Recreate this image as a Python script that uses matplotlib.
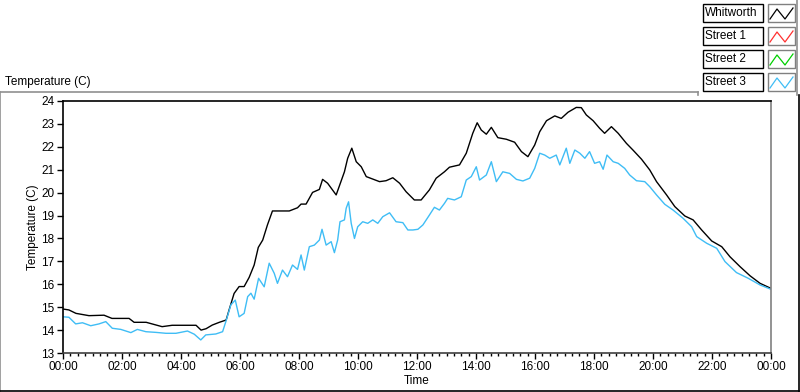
"""LabVIEW-style waveform chart: street temperatures over one day."""

import matplotlib

matplotlib.use("Agg")
import matplotlib.pyplot as plt
from matplotlib.lines import Line2D
from matplotlib.patches import Rectangle
from matplotlib.ticker import FixedLocator, MultipleLocator

plt.rcParams["font.family"] = ["Liberation Sans", "DejaVu Sans"]

# hours since midnight / temperature in C
whitworth_t = [
    0.00, 0.20, 0.44, 0.88, 1.39, 1.66, 2.24, 2.41, 2.82, 3.16, 3.36, 3.70,
    4.51, 4.68, 4.85, 5.06, 5.30, 5.53, 5.63, 5.80, 5.97, 6.14, 6.31, 6.48,
    6.62, 6.77, 6.93, 7.10, 7.44, 7.67, 7.95, 8.07, 8.24, 8.46, 8.69, 8.80,
    8.97, 9.26, 9.54, 9.65, 9.79, 9.94, 10.11, 10.28, 10.73, 10.95, 11.18,
    11.41, 11.63, 11.91, 12.14, 12.42, 12.65, 12.93, 13.10, 13.44, 13.67,
    13.89, 14.04, 14.18, 14.35, 14.52, 14.74, 15.03, 15.31, 15.54, 15.76,
    15.99, 16.16, 16.39, 16.67, 16.89, 17.12, 17.40, 17.57, 17.74, 17.97,
    18.19, 18.36, 18.59, 18.82, 19.10, 19.32, 19.61, 19.89, 20.12, 20.46,
    20.74, 21.08, 21.36, 21.65, 21.99, 22.33, 22.61, 22.95, 23.29, 23.63,
    24.00,
]
whitworth_v = [
    14.92, 14.88, 14.73, 14.63, 14.65, 14.51, 14.51, 14.34, 14.34, 14.22,
    14.15, 14.21, 14.21, 14.00, 14.06, 14.22, 14.34, 14.44, 14.88, 15.60,
    15.90, 15.90, 16.30, 16.84, 17.61, 17.93, 18.59, 19.20, 19.20, 19.20,
    19.34, 19.50, 19.50, 20.01, 20.14, 20.58, 20.41, 19.90, 20.91, 21.50,
    21.94, 21.35, 21.13, 20.70, 20.48, 20.52, 20.65, 20.41, 20.04, 19.68,
    19.68, 20.12, 20.63, 20.91, 21.11, 21.21, 21.72, 22.59, 23.05, 22.73,
    22.55, 22.85, 22.40, 22.33, 22.20, 21.79, 21.57, 22.08, 22.66, 23.14,
    23.35, 23.24, 23.51, 23.72, 23.71, 23.39, 23.14, 22.81, 22.59, 22.88,
    22.59, 22.15, 21.86, 21.46, 20.99, 20.48, 19.90, 19.39, 18.98, 18.81,
    18.37, 17.89, 17.64, 17.20, 16.77, 16.37, 16.04, 15.82,
]

street3_t = [
    0.00, 0.20, 0.43, 0.66, 0.94, 1.22, 1.45, 1.67, 1.96, 2.30, 2.52, 2.81,
    3.15, 3.49, 3.83, 4.22, 4.45, 4.67, 4.84, 5.18, 5.41, 5.52, 5.69, 5.84,
    5.97, 6.14, 6.26, 6.37, 6.48, 6.63, 6.82, 6.99, 7.16, 7.27, 7.44, 7.61,
    7.78, 7.95, 8.07, 8.18, 8.35, 8.52, 8.69, 8.78, 8.92, 9.09, 9.20, 9.31,
    9.39, 9.54, 9.60, 9.68, 9.77, 9.88, 9.99, 10.16, 10.33, 10.50, 10.67,
    10.84, 11.07, 11.29, 11.52, 11.69, 11.86, 12.03, 12.20, 12.42, 12.59,
    12.76, 12.93, 13.04, 13.27, 13.50, 13.67, 13.84, 14.01, 14.12, 14.35,
    14.52, 14.69, 14.91, 15.14, 15.37, 15.59, 15.82, 15.99, 16.16, 16.33,
    16.50, 16.72, 16.84, 17.06, 17.18, 17.35, 17.52, 17.69, 17.85, 18.02,
    18.19, 18.31, 18.44, 18.65, 18.82, 19.04, 19.21, 19.44, 19.72, 19.89,
    20.12, 20.40, 20.68, 21.02, 21.31, 21.48, 21.82, 22.16, 22.44, 22.83,
    23.23, 23.63, 24.00,
]
street3_v = [
    14.58, 14.56, 14.27, 14.32, 14.19, 14.27, 14.37, 14.08, 14.03, 13.89,
    14.03, 13.93, 13.90, 13.86, 13.86, 13.96, 13.82, 13.57, 13.79, 13.83,
    13.93, 14.37, 15.10, 15.31, 14.58, 14.73, 15.46, 15.61, 15.35, 16.26,
    15.89, 16.92, 16.48, 16.04, 16.62, 16.33, 16.84, 16.65, 17.28, 16.62,
    17.64, 17.71, 17.93, 18.40, 17.71, 17.86, 17.38, 17.93, 18.73, 18.81,
    19.32, 19.60, 18.66, 18.00, 18.51, 18.73, 18.66, 18.81, 18.66, 18.95,
    19.12, 18.73, 18.69, 18.37, 18.37, 18.40, 18.59, 19.02, 19.36, 19.24,
    19.53, 19.75, 19.68, 19.82, 20.55, 20.70, 21.13, 20.55, 20.77, 21.35,
    20.48, 20.91, 20.84, 20.58, 20.51, 20.63, 21.06, 21.72, 21.64, 21.50,
    21.64, 21.21, 21.94, 21.28, 21.86, 21.72, 21.50, 21.79, 21.28, 21.35,
    21.02, 21.64, 21.35, 21.28, 21.06, 20.77, 20.52, 20.48, 20.26, 19.90,
    19.49, 19.24, 18.88, 18.51, 18.08, 17.79, 17.57, 16.99, 16.51, 16.26,
    15.97, 15.78,
]

# Street 1 and Street 2 have no samples in this log
series_names = ["Whitworth", "Street 1", "Street 2", "Street 3"]
series_colors = ["#000000", "#ff3030", "#00d000", "#3fbdf5"]
series_t = [whitworth_t, [], [], street3_t]
series_v = [whitworth_v, [], [], street3_v]

x_ticks = list(range(0, 25, 2))
x_labels = [f"{h % 24:02d}:00" for h in x_ticks]

W, H = 800, 392


def fx(x):
    return x / W


def fy(y):
    return 1 - y / H


fig = plt.figure(figsize=(8, 3.92), dpi=100)
ax = fig.add_axes([fx(63), fy(353), fx(771 - 63), (353 - 101) / H])

for t, v, c in zip(series_t, series_v, series_colors):
    ax.plot(t, v, color=c, lw=1.0)

ax.set_xlim(0, 24)
ax.set_ylim(13, 24)
ax.xaxis.set_major_locator(FixedLocator(x_ticks))
ax.set_xticklabels(x_labels)
ax.xaxis.set_minor_locator(MultipleLocator(0.25))
ax.yaxis.set_major_locator(MultipleLocator(1))
ax.tick_params(axis="both", which="major", length=4, width=1, labelsize=8.5,
               direction="out", pad=2)
ax.tick_params(axis="x", which="minor", length=2.5, width=1, direction="out")
ax.spines["left"].set_color("#000000")
ax.spines["top"].set_color("#000000")
ax.spines["right"].set_color("#808080")
ax.spines["bottom"].set_color("#404040")
for s in ax.spines.values():
    s.set_linewidth(1.2)

ax.set_xlabel("Time", fontsize=8.5, labelpad=1)
ax.set_ylabel("Temperature (C)", fontsize=8.5, labelpad=2)

# panel title
fig.text(fx(5), fy(82), "Temperature (C)", fontsize=8.5, va="center", ha="left")

# panel frame
frame = [
    ([0, 698], [92, 92], "#909090"),
    ([0, 0], [92, 392], "#909090"),
    ([698, 698], [92, 95], "#909090"),
    ([797, 797], [0, 95], "#909090"),
    ([799, 799], [95, 392], "#000000"),
    ([0, 799], [391, 391], "#000000"),
]
for xs, ys, c in frame:
    fig.add_artist(Line2D([fx(x) for x in xs], [fy(y) for y in ys],
                          transform=fig.transFigure, color=c, lw=1.2))

# legend (LabVIEW plot legend)
for i, (name, c) in enumerate(zip(series_names, series_colors)):
    top = 4 + 23 * i
    fig.add_artist(Rectangle((fx(703), fy(top + 18)), fx(60), 18 / H,
                             transform=fig.transFigure, fill=False,
                             ec="#000000", lw=1.0))
    fig.text(fx(705), fy(top + 9), name, fontsize=8.5, va="center", ha="left")
    fig.add_artist(Rectangle((fx(768), fy(top + 18)), fx(27), 18 / H,
                             transform=fig.transFigure, fill=False,
                             ec="#808080", lw=1.0))
    zx = [770, 777, 785, 793]
    zy = [top + 15, top + 5, top + 15, top + 4]
    fig.add_artist(Line2D([fx(x) for x in zx], [fy(y) for y in zy],
                          transform=fig.transFigure, color=c, lw=0.9))

fig.savefig("out.png", dpi=100)
